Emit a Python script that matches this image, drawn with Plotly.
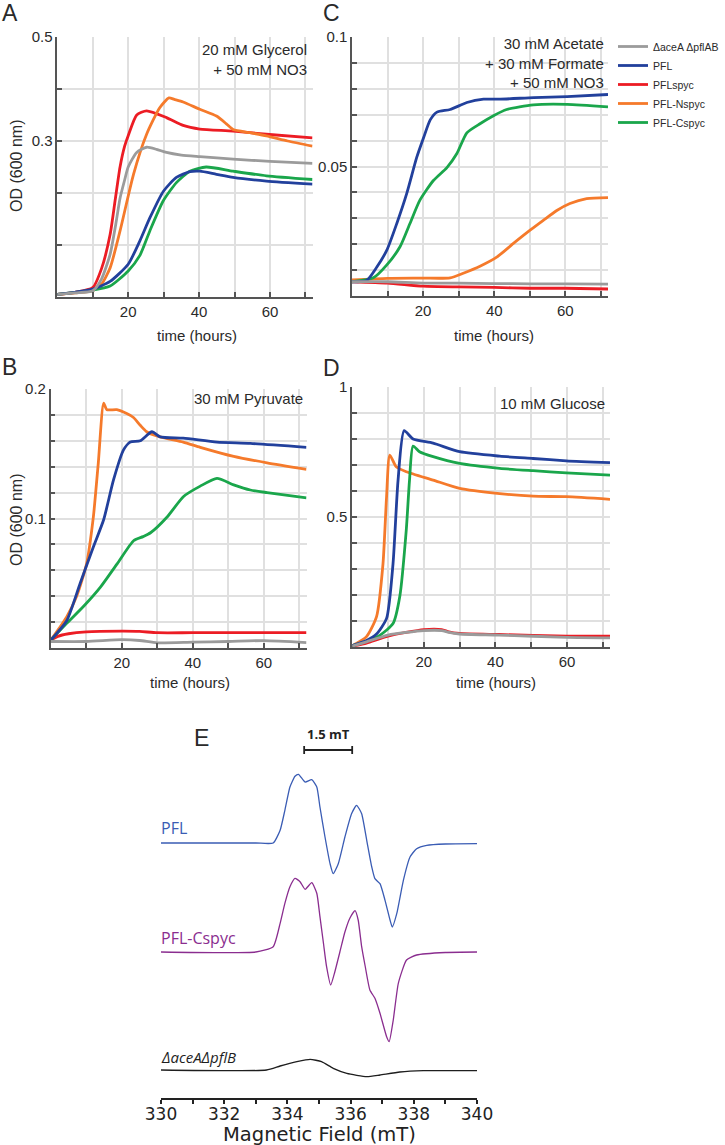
import plotly.graph_objects as go

W, H = 725, 1145
def px(x): return x / W
def py(y): return 1 - y / H

# ---------------- data: growth curves (time in hours, OD600) ----------------
STRAINS = ["\u0394aceA \u0394pflAB", "PFL", "PFLspyc", "PFL-Nspyc", "PFL-Cspyc"]
COLORS = ["#9b9b9b", "#22409c", "#ec1c24", "#f57a2b", "#1aa64b"]

# Panel A: 20 mM Glycerol + 50 mM NO3
A_gray_t = [0, 5, 10, 12.5, 14.9, 16.5, 17.7, 19, 20, 22.4, 25.2, 28, 30.8, 35, 40.2, 49.6, 60, 72]
A_gray_od = [0.005, 0.008, 0.012, 0.035, 0.082, 0.14, 0.19, 0.225, 0.25, 0.278, 0.288, 0.284, 0.278, 0.273, 0.27, 0.265, 0.261, 0.257]
A_blue_t = [0, 5, 10, 14.9, 20, 23.3, 26.1, 29.9, 33.6, 37.4, 40.2, 44.9, 49.6, 59, 72]
A_blue_od = [0.005, 0.009, 0.015, 0.03, 0.063, 0.108, 0.152, 0.203, 0.23, 0.241, 0.242, 0.236, 0.23, 0.223, 0.217]
A_red_t = [0, 5, 10, 12.5, 14.9, 16.3, 17.7, 19, 20, 22.4, 25.2, 30.8, 35.5, 40.2, 49.6, 59, 72]
A_red_od = [0.005, 0.009, 0.018, 0.055, 0.12, 0.185, 0.25, 0.29, 0.31, 0.35, 0.358, 0.345, 0.33, 0.323, 0.319, 0.313, 0.306]
A_orange_t = [0, 5, 10, 12.5, 14.9, 17.7, 21.5, 25.2, 28.9, 31.5, 33, 35.5, 40.2, 44.9, 47.7, 49.6, 54.3, 59, 65, 72]
A_orange_od = [0.005, 0.008, 0.012, 0.025, 0.056, 0.127, 0.236, 0.313, 0.364, 0.383, 0.38, 0.375, 0.361, 0.348, 0.333, 0.322, 0.316, 0.31, 0.3, 0.29]
A_green_t = [0, 5, 10, 14.9, 20, 23.3, 26.1, 29.9, 33.6, 37.4, 42, 49.6, 59, 72]
A_green_od = [0.005, 0.009, 0.013, 0.021, 0.05, 0.08, 0.127, 0.185, 0.22, 0.242, 0.25, 0.242, 0.233, 0.226]

# Panel C: 30 mM Acetate + 30 mM Formate + 50 mM NO3
C_gray_t = [0, 10, 20, 30, 40, 50, 60, 72]
C_gray_od = [0.0055, 0.0055, 0.005, 0.005, 0.0048, 0.0047, 0.0047, 0.0046]
C_blue_t = [0, 4.1, 6.9, 9.8, 12.6, 15.4, 18.2, 20.1, 22, 23.9, 27.6, 32.3, 37, 41.7, 51.1, 60.5, 72]
C_blue_od = [0.0055, 0.006, 0.011, 0.0177, 0.028, 0.0396, 0.0535, 0.061, 0.068, 0.071, 0.072, 0.0747, 0.076, 0.076, 0.0766, 0.077, 0.0778]
C_red_t = [0, 10, 20, 30, 40, 50, 60, 72]
C_red_od = [0.0055, 0.005, 0.0038, 0.0035, 0.0033, 0.003, 0.003, 0.0027]
C_orange_t = [0, 10, 20, 27.6, 31.3, 36, 40.7, 45.4, 50.1, 53.8, 57.6, 61.3, 66, 72]
C_orange_od = [0.0062, 0.0068, 0.0069, 0.007, 0.0088, 0.0115, 0.015, 0.0203, 0.0254, 0.0292, 0.033, 0.0357, 0.0376, 0.038]
C_green_t = [0, 6, 9.8, 13.5, 16.3, 19.1, 22.9, 26.7, 29.5, 32.3, 36, 39.8, 43.5, 51, 60.5, 72]
C_green_od = [0.0055, 0.007, 0.012, 0.019, 0.028, 0.037, 0.0446, 0.0496, 0.055, 0.063, 0.0665, 0.0696, 0.072, 0.0738, 0.074, 0.073]

# Panel B: 30 mM Pyruvate
B_gray_t = [0, 10, 20, 25, 30, 40, 50, 60, 72]
B_gray_od = [0.005, 0.005, 0.0064, 0.0058, 0.004, 0.0045, 0.005, 0.0057, 0.0042]
B_blue_t = [0, 4.5, 8.3, 12, 14.9, 17.7, 20.5, 22.4, 25.2, 28.5, 30.8, 37.3, 46.8, 56.2, 72]
B_blue_od = [0.006, 0.021, 0.05, 0.078, 0.099, 0.13, 0.153, 0.159, 0.16, 0.167, 0.163, 0.162, 0.159, 0.158, 0.155]
B_red_t = [0, 2, 5, 10, 20, 25, 30, 40, 72]
B_red_od = [0.006, 0.009, 0.011, 0.0125, 0.013, 0.0128, 0.0118, 0.0118, 0.0118]
B_orange_t = [0, 4.5, 7.3, 10.1, 12, 13.4, 14.9, 15.8, 18.6, 21.4, 23.3, 25.2, 27, 30.8, 37.3, 42.1, 51.5, 60.9, 72]
B_orange_od = [0.006, 0.024, 0.04, 0.065, 0.101, 0.143, 0.189, 0.184, 0.184, 0.181, 0.178, 0.172, 0.167, 0.163, 0.159, 0.155, 0.148, 0.143, 0.138]
B_green_t = [0, 4.5, 9.2, 14, 18.7, 23.4, 26, 28.1, 32.7, 37.4, 42.1, 46.8, 51.5, 56.2, 60.9, 72]
B_green_od = [0.006, 0.019, 0.032, 0.047, 0.065, 0.083, 0.086, 0.089, 0.101, 0.117, 0.125, 0.131, 0.126, 0.122, 0.12, 0.116]

# Panel D: 10 mM Glucose
D_gray_t = [0, 4, 10, 20, 25, 27, 30, 41, 60, 72]
D_gray_od = [0.003, 0.02, 0.046, 0.063, 0.063, 0.056, 0.05, 0.046, 0.037, 0.035]
D_blue_t = [0, 4, 6.8, 9.6, 11.4, 12.8, 14.5, 17, 22.6, 30, 41.2, 50.5, 59.8, 72]
D_blue_od = [0.005, 0.025, 0.05, 0.11, 0.32, 0.64, 0.832, 0.8, 0.784, 0.751, 0.734, 0.725, 0.716, 0.709]
D_red_t = [0, 4, 10, 20, 25, 27, 30, 41, 60, 72]
D_red_od = [0.003, 0.015, 0.042, 0.067, 0.067, 0.058, 0.052, 0.048, 0.042, 0.042]
D_orange_t = [0, 4, 6.8, 8.6, 9.6, 10.5, 12.3, 15.1, 22.6, 30, 41.2, 50.5, 59.8, 72]
D_orange_od = [0.005, 0.04, 0.117, 0.32, 0.578, 0.738, 0.693, 0.674, 0.642, 0.61, 0.59, 0.58, 0.578, 0.568]
D_green_t = [0, 4, 7.7, 11.4, 13.3, 15.1, 16, 17, 18.8, 22.6, 30, 41.2, 50.5, 59.8, 72]
D_green_od = [0.005, 0.022, 0.045, 0.09, 0.195, 0.45, 0.64, 0.773, 0.751, 0.732, 0.706, 0.687, 0.678, 0.67, 0.661]

# ---------------- data: EPR spectra (field in mT, signal in arbitrary units) ----------------
E_pfl_b = [330, 333.0, 333.55, 333.77, 333.92, 334.08, 334.24, 334.35, 334.56, 334.77, 334.93, 335.03, 335.19, 335.35, 335.45,
           335.61, 335.82, 336.03, 336.19, 336.35, 336.51, 336.67, 336.77, 336.93, 337.09, 337.25, 337.32, 337.46, 337.67,
           337.88, 338.09, 338.41, 339, 340]
E_pfl_s = [0, 0, 0, 12.7, 32.7, 56, 66.7, 68.7, 61, 63.3, 56, 36, 6, -20.7, -30.7,
           -20.7, 6, 29.3, 37.7, 29.3, 2.7, -24, -35.7, -40.7, -57.3, -77.3, -84, -70.7, -37.3,
           -14, -5.7, -2.3, -1, -0.7]
E_cspyc_b = [330, 333.0, 333.55, 333.77, 333.92, 334.08, 334.24, 334.40, 334.56, 334.77, 334.93, 335.03, 335.14, 335.24,
             335.37, 335.50, 335.66, 335.82, 335.98, 336.14, 336.24, 336.35, 336.46, 336.61, 336.77, 336.93, 337.14,
             337.22, 337.35, 337.51, 337.77, 338.09, 339, 340]
E_cspyc_s = [0, 0, 5.3, 28.7, 48.7, 65.3, 73.7, 70.3, 62.7, 69.3, 58.7, 35.3, 9, -14.7,
             -33, -20, 0, 20, 34, 41.3, 32, 5.3, -14, -38, -46.3, -61.3, -84.7,
             -89.7, -68, -31.3, -8, -3, -0.5, 0]
E_ko_b = [330, 333.34, 333.77, 334.3, 334.72, 335.08, 335.45, 335.88, 336.51, 336.93, 337.56, 338.3, 340]
E_ko_s = [0, 0, 4, 8.3, 10.7, 8.3, 1.7, -3.3, -6.7, -5, -2, -0.7, -0.7]
E_labels = ["PFL", "PFL-Cspyc", "\u0394aceA\u0394pflB"]
E_colors = ["#3a5cb4", "#8a2d8f", "#1e1e1e"]
E_offsets = [255, 146, 28]          # vertical stacking of the three spectra
SCALE_BAR = (334.53, 336.05)        # 1.5 mT

SANS = "Liberation Sans, Arial, sans-serif"
TXT = "#2a2a2a"
AX = "#555555"
GRID = "#e0e0e0"

fig = go.Figure()

panels = [
    # name, axis suffix, x px span, y px span, ymax, ygrid step, y labels
    ("A", "", (57.3, 312.5), (37, 297), 0.5, 0.1, {0.3: "0.3", 0.5: "0.5"}),
    ("C", "2", (352, 608), (37, 296), 0.1, 0.01, {0.05: "0.05", 0.1: "0.1"}),
    ("B", "3", (50.7, 306.5), (389, 648), 0.2, 0.02, {0.1: "0.1", 0.2: "0.2"}),
    ("D", "4", (352.2, 610), (387, 647), 1.0, 0.1, {0.5: "0.5", 1.0: "1"}),
]
series = {
    "A": [(A_gray_t, A_gray_od), (A_blue_t, A_blue_od), (A_red_t, A_red_od), (A_orange_t, A_orange_od), (A_green_t, A_green_od)],
    "C": [(C_gray_t, C_gray_od), (C_blue_t, C_blue_od), (C_red_t, C_red_od), (C_orange_t, C_orange_od), (C_green_t, C_green_od)],
    "B": [(B_gray_t, B_gray_od), (B_blue_t, B_blue_od), (B_red_t, B_red_od), (B_orange_t, B_orange_od), (B_green_t, B_green_od)],
    "D": [(D_gray_t, D_gray_od), (D_blue_t, D_blue_od), (D_red_t, D_red_od), (D_orange_t, D_orange_od), (D_green_t, D_green_od)],
}
draw_order = [2, 3, 4, 1, 0]

xt_vals = list(range(0, 71, 10))
xt_text = ["" if v not in (20, 40, 60) else str(v) for v in xt_vals]

for name, sfx, (x0, x1), (y0, y1), ymax, ystep, ylab in panels:
    n = int(round(ymax / ystep))
    yv = [round(i * ystep, 4) for i in range(n + 1)]
    yt = [ylab.get(v, "") for v in yv]
    fig.layout["xaxis" + sfx] = dict(
        domain=[px(x0), px(x1)], range=[0, 72], anchor="y" + sfx, automargin=False,
        tickmode="array", tickvals=xt_vals, ticktext=xt_text,
        ticks="inside", ticklen=5, tickwidth=1.5, tickcolor=AX,
        showgrid=True, gridcolor=GRID, gridwidth=1.5,
        showline=True, linecolor=AX, linewidth=1.5, zeroline=False,
        tickfont=dict(family=SANS, size=15, color=TXT))
    fig.layout["yaxis" + sfx] = dict(
        domain=[py(y1), py(y0)], range=[0, ymax], anchor="x" + sfx, automargin=False,
        tickmode="array", tickvals=yv, ticktext=yt,
        ticks="inside", ticklen=5, tickwidth=1.5, tickcolor=AX,
        showgrid=True, gridcolor=GRID, gridwidth=1.5,
        showline=True, linecolor=AX, linewidth=1.5, zeroline=False,
        tickfont=dict(family=SANS, size=15, color=TXT))
    for i in draw_order:
        t, od = series[name][i]
        fig.add_trace(go.Scatter(
            x=t, y=od, mode="lines", name=STRAINS[i], legendgroup=STRAINS[i],
            legendrank=i + 1, showlegend=(name == "C"),
            line=dict(color=COLORS[i], width=2.8, shape="spline", smoothing=0.6),
            xaxis="x" + sfx, yaxis="y" + sfx, hoverinfo="skip"))

# ---------------- panel E ----------------
fig.layout["xaxis5"] = dict(
    domain=[px(161), px(477)], range=[330, 340], anchor="y5", automargin=False,
    tickmode="array", tickvals=list(range(330, 341, 2)),
    ticks="",
    minor=dict(tickvals=list(range(330, 341, 1)), ticks="outside", ticklen=4, tickwidth=1.5, tickcolor="#222", showgrid=False),
    showgrid=False, showline=True, linecolor="#222", linewidth=1.5, zeroline=False,
    tickfont=dict(family="DejaVu Sans", size=17, color="#222"))
fig.layout["yaxis5"] = dict(domain=[py(1098), py(720)], range=[0, 378], anchor="x5", visible=False, automargin=False)

for b, s, col, off in zip([E_pfl_b, E_cspyc_b, E_ko_b], [E_pfl_s, E_cspyc_s, E_ko_s], E_colors, E_offsets):
    fig.add_trace(go.Scatter(x=b, y=[v + off for v in s], mode="lines", showlegend=False,
                             line=dict(color=col, width=1.3, shape="spline", smoothing=0.5),
                             xaxis="x5", yaxis="y5", hoverinfo="skip"))

# scale bar
sb_y = 348
fig.add_shape(type="line", xref="x5", yref="y5", x0=SCALE_BAR[0], x1=SCALE_BAR[1], y0=sb_y, y1=sb_y, line=dict(color="#222", width=1.8))
for xb in SCALE_BAR:
    fig.add_shape(type="line", xref="x5", yref="y5", x0=xb, x1=xb, y0=sb_y - 4, y1=sb_y + 4, line=dict(color="#222", width=1.8))
fig.add_annotation(xref="x5", yref="y5", x=(SCALE_BAR[0] + SCALE_BAR[1]) / 2, y=sb_y + 16, text="<b>1.5 mT</b>",
                   showarrow=False, font=dict(family="Open Sans", size=13, color="#222"))

# spectrum labels
lab_y = [828, 938, 1057]
for txt, col, yy in zip(E_labels, E_colors, lab_y):
    t = "<i>" + txt + "</i>" if txt.startswith("\u0394") else txt
    fig.add_annotation(xref="paper", yref="paper", x=px(159), y=py(yy), xanchor="left", yanchor="middle",
                       text=t, showarrow=False, font=dict(family="Open Sans", size=16 if not txt.startswith("\u0394") else 15, color=col))

fig.add_annotation(xref="paper", yref="paper", x=px(319), y=py(1134), text="Magnetic Field (mT)", showarrow=False,
                   xanchor="center", yanchor="middle", font=dict(family="DejaVu Sans", size=19.5, color="#222"))

# ---------------- text annotations ----------------
def ann(x, y, text, size=15, xanchor="center", family=SANS, angle=0, color=TXT, align="center"):
    fig.add_annotation(xref="paper", yref="paper", x=px(x), y=py(y), text=text, showarrow=False,
                       xanchor=xanchor, yanchor="middle", textangle=angle, align=align,
                       font=dict(family=family, size=size, color=color))

# panel letters
for letter, x, y in [("A", 10, 13), ("C", 331, 13), ("B", 9, 367), ("D", 331, 368), ("E", 202, 738)]:
    ann(x, y, letter, size=23)

# conditions
ann(309, 59, "20 mM Glycerol<br>+ 50 mM NO3", size=15, xanchor="right", align="right")
ann(606, 63, "30 mM Acetate<br>+ 30 mM Formate<br>+ 50 mM NO3", size=15, xanchor="right", align="right")
ann(305, 398, "30 mM Pyruvate", size=15, xanchor="right")
ann(607, 403, "10 mM Glucose", size=15, xanchor="right")

# axis titles
ann(17, 166, "OD (600 nm)", size=16, angle=-90)
ann(17, 520, "OD (600 nm)", size=16, angle=-90)
ann(197, 335, "time (hours)", size=15)
ann(494, 335, "time (hours)", size=15)
ann(190, 682, "time (hours)", size=15)
ann(496, 682, "time (hours)", size=15)

fig.update_layout(
    template="none",
    width=W, height=H, margin=dict(l=0, r=0, t=0, b=0, autoexpand=False),
    paper_bgcolor="white", plot_bgcolor="white",
    showlegend=True,
    legend=dict(x=px(613), y=py(32), xanchor="left", yanchor="top", tracegroupgap=0,
                itemwidth=30, font=dict(family=SANS, size=10.5, color=TXT), bgcolor="rgba(0,0,0,0)"),
)

fig.write_html("out.html", config={"displayModeBar": False},
               post_script="document.body.style.margin='0px';document.body.style.overflow='hidden';")
